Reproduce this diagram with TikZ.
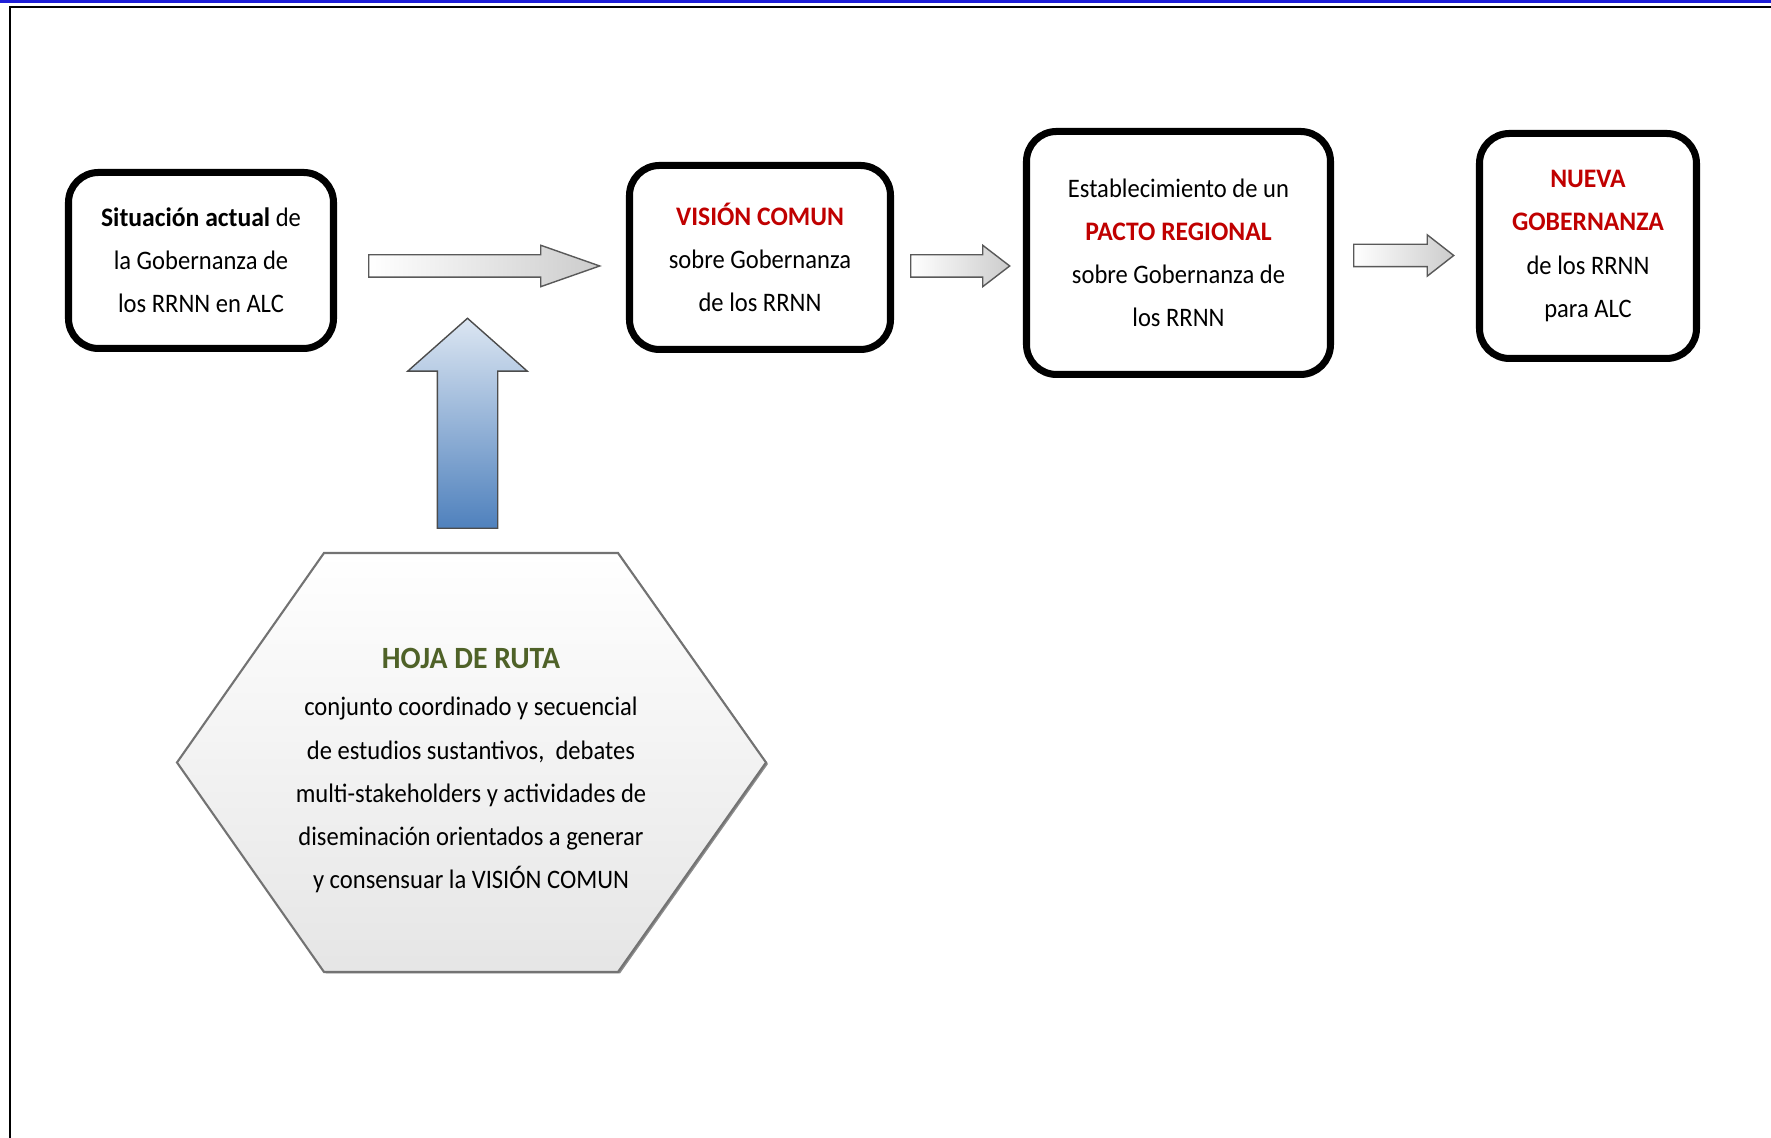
\documentclass[tikz,border=0pt]{standalone}
\usepackage{fontspec}
\setmainfont{Carlito}[FakeStretch=0.92,BoldFeatures={FakeStretch=0.96}]
\usetikzlibrary{shapes.arrows}
\definecolor{darkred}{RGB}{192,0,0}
\definecolor{rutagreen}{RGB}{79,98,40}
\definecolor{upblue}{RGB}{220,230,242}
\definecolor{downblue}{RGB}{79,129,189}
\definecolor{topblue}{RGB}{30,30,215}

\begin{document}
\begin{tikzpicture}[
  stage/.style={draw=black,line width=2pt,rounded corners=0.3cm,fill=white,align=center,inner sep=0pt,font=\fontsize{7.6}{12.3}\selectfont},
  flow/.style={single arrow,draw=black!65,thin,inner sep=0.105cm,single arrow head extend=0.095cm,anchor=tail,left color=white,right color=black!20}]
\useasboundingbox (0,0) rectangle (17.71,11.38);
\draw[topblue,line width=0.85pt] (0,11.365) -- (17.71,11.365);
\draw[black,line width=0.8pt] (0.10,0) -- (0.10,11.31) -- (17.71,11.31);

% stages
\node[stage,minimum width=2.65cm,minimum height=1.76cm] (sit) at (2.01,8.775) {\textbf{Situación actual} de\\la Gobernanza de\\los RRNN en ALC};
\node[stage,minimum width=2.61cm,minimum height=1.84cm] (vision) at (7.60,8.805) {{\color{darkred}\textbf{VISIÓN COMUN}}\\sobre Gobernanza\\de los RRNN};
\node[stage,minimum width=3.04cm,minimum height=2.43cm] (pacto) at (11.785,8.85) {Establecimiento de un\\{\color{darkred}\textbf{PACTO REGIONAL}}\\sobre Gobernanza de\\los RRNN};
\node[stage,minimum width=2.17cm,minimum height=2.25cm] (nueva) at (15.88,8.92) {{\color{darkred}\textbf{NUEVA}}\\{\color{darkred}\textbf{GOBERNANZA}}\\de los RRNN\\para ALC};

% block arrows
\node[flow,minimum height=2.31cm,single arrow tip angle=38.7] (a1) at (3.68,8.72) {};
\node[flow,minimum height=0.99cm,single arrow tip angle=75] (a2) at (9.10,8.72) {};
\node[flow,minimum height=1.00cm,single arrow tip angle=76] (a3) at (13.53,8.825) {};
\node[single arrow,shape border rotate=90,draw=black!70,thin,inner sep=0.295cm,single arrow head extend=0.295cm,single arrow tip angle=97,minimum height=2.10cm,anchor=tail,top color=upblue,bottom color=downblue] (up) at (4.675,6.09) {};

% hoja de ruta
\fill[black!45] (3.26,5.835) -- (6.20,5.835) -- (7.68,3.74) -- (6.20,1.645) -- (3.26,1.645) -- (1.79,3.74) -- cycle;
\draw[draw=black!55,line width=0.6pt,top color=white,bottom color=black!10] (3.24,5.85) -- (6.18,5.85) -- (7.66,3.755) -- (6.18,1.66) -- (3.24,1.66) -- (1.77,3.755) -- cycle;
\node[align=center,font=\fontsize{7.6}{12.3}\selectfont] (hoja) at (4.71,3.675) {{\fontsize{8.8}{12.3}\selectfont\color{rutagreen}\textbf{HOJA DE RUTA}}\\[0.045cm]conjunto coordinado y secuencial\\de estudios sustantivos,~ debates\\multi-stakeholders y actividades de\\diseminación orientados a generar\\y consensuar la VISIÓN COMUN};

\end{tikzpicture}
\end{document}
